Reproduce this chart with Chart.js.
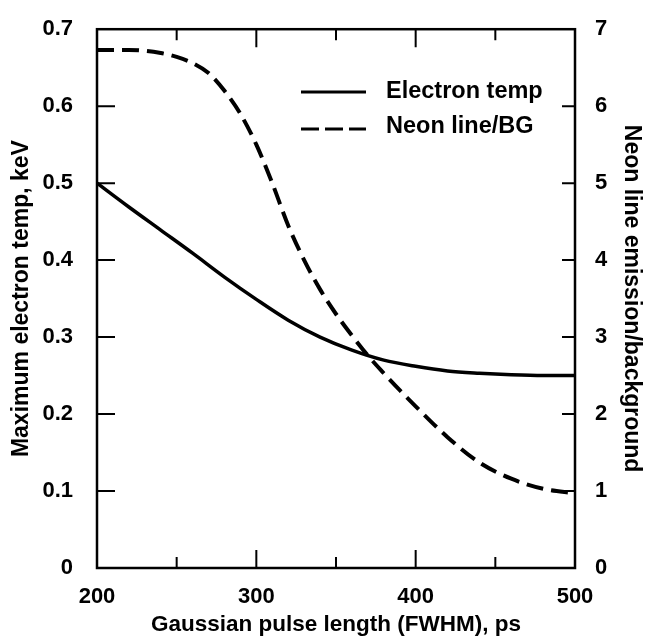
<!DOCTYPE html>
<html>
<head>
<meta charset="utf-8">
<script src="https://cdn.jsdelivr.net/npm/chart.js@4"></script>
<style>
  body { margin: 0; background: #fff; }
</style>
</head>
<body>
<canvas id="chart" width="645" height="638"></canvas>
<script>
// --- data ---
const pulseLen = [200, 220, 240, 260, 280, 300, 320, 340, 360, 380, 400, 420, 440, 460, 480, 500];
const electronTemp = [0.500, 0.469, 0.439, 0.409, 0.378, 0.349, 0.322, 0.300, 0.283, 0.270, 0.262, 0.256, 0.253, 0.251, 0.250, 0.250];

const neonPulseLen = [200, 220, 240, 250, 260, 270, 280, 290, 300, 310, 320, 330, 340, 350, 360, 370, 380, 390, 400, 420, 440, 460, 480, 500];
const neonRatio = [6.73, 6.73, 6.69, 6.64, 6.56, 6.43, 6.20, 5.90, 5.50, 5.00, 4.45, 4.00, 3.62, 3.30, 3.02, 2.76, 2.53, 2.31, 2.10, 1.70, 1.37, 1.16, 1.03, 0.97];

const xTicks = [200, 250, 300, 350, 400, 450, 500];
const tempTicks = [0, 0.1, 0.2, 0.3, 0.4, 0.5, 0.6, 0.7];
const ratioTicks = [0, 1, 2, 3, 4, 5, 6, 7];

const seriesNames = ['Electron temp', 'Neon line/BG'];

const FONT = "'Liberation Sans', Arial, sans-serif";

// frame, inward ticks and legend
const framePlugin = {
  id: 'frame',
  afterDraw(chart) {
    const ctx = chart.ctx;
    const a = chart.chartArea;
    const x = chart.scales.x, y = chart.scales.y, y2 = chart.scales.y2;
    ctx.save();
    ctx.strokeStyle = '#000';
    ctx.lineWidth = 2.5;
    ctx.strokeRect(a.left, a.top, a.right - a.left, a.bottom - a.top);

    ctx.lineWidth = 2;
    ctx.beginPath();
    xTicks.forEach(v => {
      if (v === 200 || v === 500) return;
      const px = x.getPixelForValue(v);
      const len = v % 100 === 0 ? 18 : 11;
      ctx.moveTo(px, a.bottom); ctx.lineTo(px, a.bottom - len);
      ctx.moveTo(px, a.top); ctx.lineTo(px, a.top + len);
    });
    tempTicks.forEach(v => {
      if (v === 0 || v === 0.7) return;
      const py = y.getPixelForValue(v);
      ctx.moveTo(a.left, py); ctx.lineTo(a.left + 18, py);
    });
    ratioTicks.forEach(v => {
      if (v === 0 || v === 7) return;
      const py = y2.getPixelForValue(v);
      ctx.moveTo(a.right, py); ctx.lineTo(a.right - 13, py);
    });
    ctx.stroke();

    // legend
    ctx.lineWidth = 3;
    ctx.beginPath();
    ctx.moveTo(301, 92); ctx.lineTo(366, 92);
    ctx.stroke();
    ctx.setLineDash([18, 6]);
    ctx.beginPath();
    ctx.moveTo(301, 129); ctx.lineTo(366, 129);
    ctx.stroke();
    ctx.setLineDash([]);
    ctx.fillStyle = '#000';
    ctx.font = 'bold 23.5px ' + FONT;
    ctx.textBaseline = 'middle';
    ctx.textAlign = 'left';
    ctx.fillText(seriesNames[0], 386, 92);
    ctx.fillText(seriesNames[1], 386, 127);
    ctx.restore();
  }
};

new Chart(document.getElementById('chart'), {
  type: 'line',
  data: {
    datasets: [
      {
        label: seriesNames[0],
        data: pulseLen.map((v, i) => ({ x: v, y: electronTemp[i] })),
        yAxisID: 'y',
        borderColor: '#000',
        borderWidth: 3.5,
        pointRadius: 0,
        cubicInterpolationMode: 'monotone'
      },
      {
        label: seriesNames[1],
        data: neonPulseLen.map((v, i) => ({ x: v, y: neonRatio[i] })),
        yAxisID: 'y2',
        borderColor: '#000',
        borderWidth: 4,
        borderDash: [17, 8],
        pointRadius: 0,
        cubicInterpolationMode: 'monotone'
      }
    ]
  },
  options: {
    responsive: false,
    animation: false,
    layout: { padding: { top: 16, left: 0, right: 0, bottom: 0 } },
    plugins: { legend: { display: false }, tooltip: { enabled: false } },
    scales: {
      x: {
        type: 'linear',
        min: 200, max: 500,
        afterBuildTicks: s => { s.ticks = xTicks.map(v => ({ value: v })); },
        afterFit: s => { s.height = 70; },
        grid: { display: false },
        border: { display: false },
        ticks: {
          color: '#000',
          padding: 8,
          maxRotation: 0,
          autoSkip: false,
          font: { family: FONT, size: 22, weight: 'bold' },
          callback: v => (v % 100 === 0 ? String(v) : '')
        },
        title: {
          display: true,
          text: 'Gaussian pulse length (FWHM), ps',
          color: '#000',
          padding: 0,
          font: { family: FONT, size: 22.5, weight: 'bold' }
        }
      },
      y: {
        position: 'left',
        min: 0, max: 0.7,
        afterBuildTicks: s => { s.ticks = tempTicks.map(v => ({ value: v })); },
        afterFit: s => { s.width = 97; },
        grid: { display: false },
        border: { display: false },
        ticks: {
          color: '#000',
          padding: 16,
          font: { family: FONT, size: 22, weight: 'bold' },
          callback: v => (v === 0 ? '0' : v.toFixed(1))
        },
        title: {
          display: true,
          text: 'Maximum electron temp, keV',
          color: '#000',
          padding: { top: 8, bottom: 0 },
          font: { family: FONT, size: 23, weight: 'bold' }
        }
      },
      y2: {
        position: 'right',
        min: 0, max: 7,
        afterBuildTicks: s => { s.ticks = ratioTicks.map(v => ({ value: v })); },
        afterFit: s => { s.width = 70; },
        grid: { display: false },
        border: { display: false },
        ticks: {
          color: '#000',
          padding: 12,
          font: { family: FONT, size: 22, weight: 'bold' },
          callback: v => String(v)
        },
        title: {
          display: true,
          text: 'Neon line emission/background',
          color: '#000',
          padding: 0,
          font: { family: FONT, size: 23, weight: 'bold' }
        }
      }
    }
  },
  plugins: [framePlugin]
});
</script>
</body>
</html>
